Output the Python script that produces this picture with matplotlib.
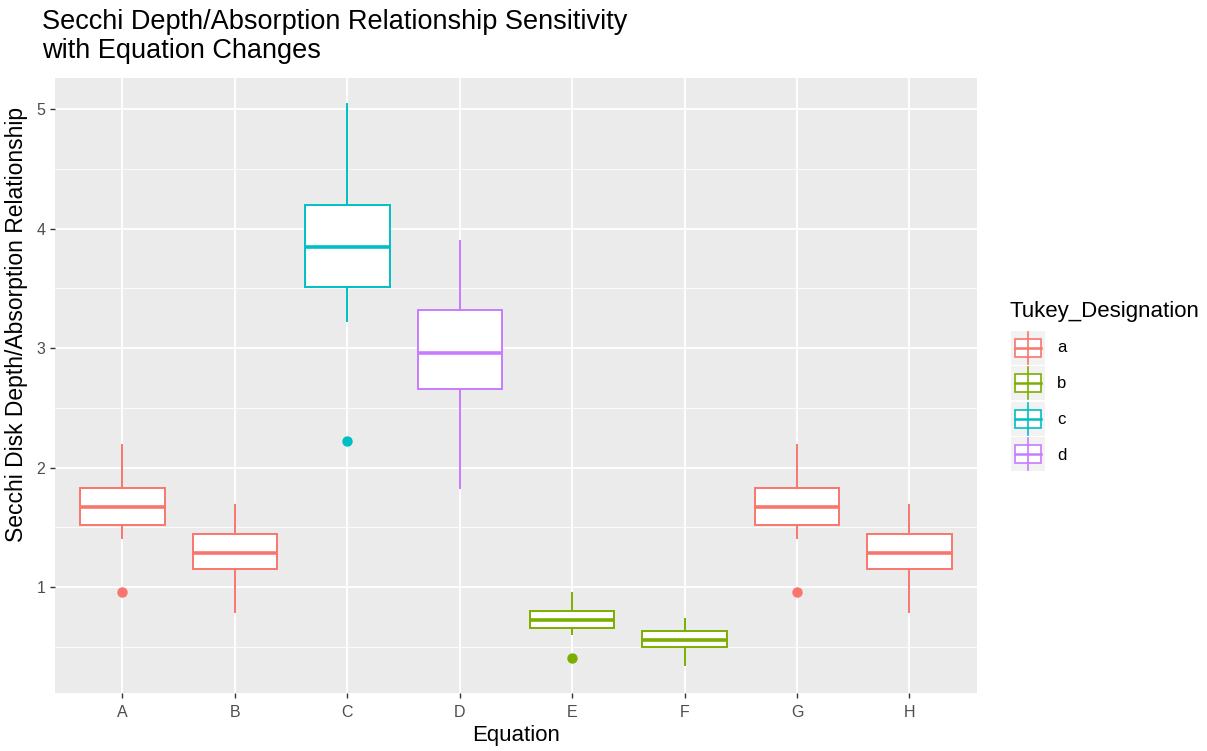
import matplotlib.pyplot as plt
from matplotlib.patches import Rectangle

plt.rcParams['font.family'] = ['Liberation Sans', 'DejaVu Sans']

# Box statistics per equation
equations = ["A", "B", "C", "D", "E", "F", "G", "H"]
tukey = ["a", "a", "c", "d", "b", "b", "a", "a"]
whislo = [1.41, 0.79, 3.23, 1.83, 0.61, 0.35, 1.41, 0.79]
q1 = [1.52, 1.15, 3.51, 2.66, 0.66, 0.50, 1.52, 1.15]
med = [1.67, 1.285, 3.85, 2.96, 0.72, 0.56, 1.67, 1.285]
q3 = [1.83, 1.44, 4.20, 3.32, 0.80, 0.63, 1.83, 1.44]
whishi = [2.19, 1.69, 5.04, 3.90, 0.95, 0.73, 2.19, 1.69]
outliers = [[0.96], [], [2.22], [], [0.41], [], [0.96], []]

groups = ["a", "b", "c", "d"]
group_colors = {"a": "#F8766D", "b": "#7CAE00", "c": "#00BFC4", "d": "#C77CFF"}

fig = plt.figure(figsize=(12.07, 7.51), dpi=100)
ax = fig.add_axes([0.0456, 0.0772, 0.7638, 0.8189])
ax.set_facecolor("#EBEBEB")

# ggplot-style grid
for v in [0.5, 1.5, 2.5, 3.5, 4.5]:
    ax.axhline(v, color="white", lw=0.6, zorder=0)
for v in [1, 2, 3, 4, 5]:
    ax.axhline(v, color="white", lw=1.3, zorder=0)
for i in range(len(equations)):
    ax.axvline(i + 1, color="white", lw=1.3, zorder=0)

for i, eq in enumerate(equations):
    col = group_colors[tukey[i]]
    stats = [dict(whislo=whislo[i], q1=q1[i], med=med[i], q3=q3[i],
                  whishi=whishi[i], fliers=outliers[i], label=eq)]
    ax.bxp(stats, positions=[i + 1], widths=0.75, showcaps=False,
           patch_artist=True, manage_ticks=False,
           boxprops=dict(facecolor="white", edgecolor=col, linewidth=1.4),
           whiskerprops=dict(color=col, linewidth=1.4),
           medianprops=dict(color=col, linewidth=2.6),
           flierprops=dict(marker="o", markerfacecolor=col, markeredgecolor=col,
                           markersize=6.5))

ax.set_xlim(0.4, 8.6)
ax.set_ylim(0.113, 5.26)
ax.set_xticks(range(1, len(equations) + 1))
ax.set_xticklabels(equations)
ax.set_yticks([1, 2, 3, 4, 5])
ax.set_yticklabels(["1", "2", "3", "4", "5"])
ax.tick_params(axis="both", colors="#333333", labelcolor="#4D4D4D",
               labelsize=11.5, length=3.5, width=1.0)
ax.tick_params(axis="x", pad=5)
for s in ax.spines.values():
    s.set_visible(False)

ax.set_xlabel("Equation", fontsize=16, color="black", labelpad=4)
ax.set_ylabel("Secchi Disk Depth/Absorption Relationship", fontsize=16.5,
              color="black")
ax.yaxis.set_label_coords(-0.029, 0.60)

fig.text(0.035, 0.988, "Secchi Depth/Absorption Relationship Sensitivity\nwith Equation Changes",
         fontsize=19.5, ha="left", va="top", linespacing=1.15)

# Legend drawn with small box glyphs
fig.text(1010 / 1207, 1 - 311 / 751, "Tukey_Designation", fontsize=16,
         ha="left", va="center")
leg = fig.add_axes([1010 / 1207, 1 - 472 / 751, 36 / 1207, 142 / 751])
leg.set_xlim(0, 1)
leg.set_ylim(0, 4)
leg.axis("off")
for k, g in enumerate(groups):
    col = group_colors[g]
    y0 = 3 - k
    leg.add_patch(Rectangle((0.02, y0 + 0.02), 0.96, 0.96, facecolor="#F2F2F2",
                            edgecolor="none"))
    leg.plot([0.5, 0.5], [y0 + 0.05, y0 + 0.95], color=col, lw=1.2)
    leg.add_patch(Rectangle((0.13, y0 + 0.25), 0.74, 0.5, facecolor="white",
                            edgecolor=col, lw=1.2))
    leg.plot([0.13, 0.87], [y0 + 0.5, y0 + 0.5], color=col, lw=1.8)
    fig.text(1057 / 1207, 1 - (348 + k * 35.7) / 751, g, fontsize=12,
             ha="left", va="center", color="black")

fig.savefig("out.png", dpi=100)
